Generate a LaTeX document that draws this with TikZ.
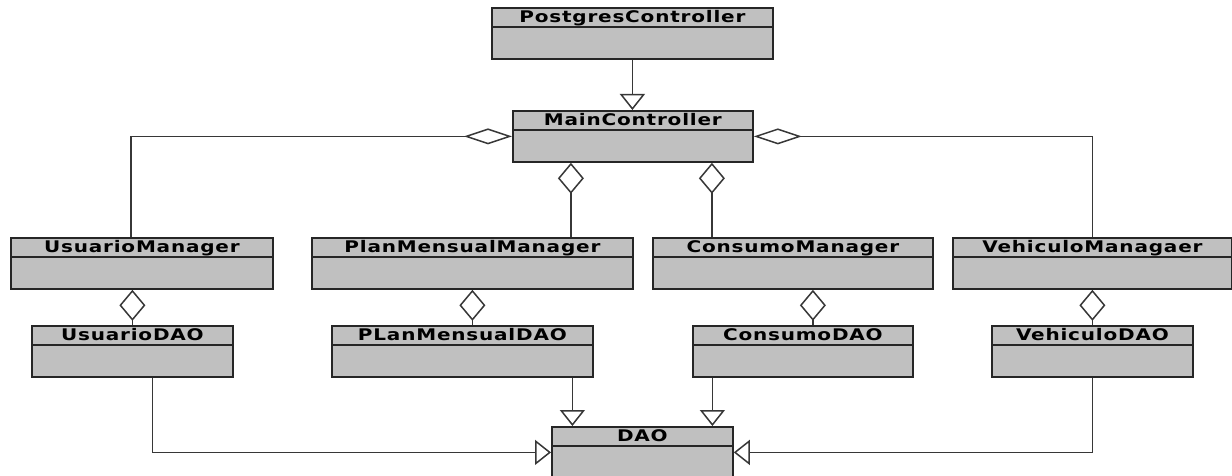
\documentclass[tikz,border=0pt]{standalone}
\usepackage{fontspec}
\usepackage{tikz}
\usetikzlibrary{positioning,arrows.meta}
\newfontfamily\umlfont[FakeStretch=1.25,LetterSpace=5]{DejaVu Sans}
\definecolor{cajagris}{RGB}{192,192,192}
\definecolor{lineagris}{RGB}{55,55,55}
\tikzset{
        clase/.style={draw=black!85, fill=cajagris, line width=1.8pt,
                anchor=north west, inner sep=0pt, minimum width=#1, minimum height=51pt,
                text height=14.5pt, text depth=36.5pt, % puts the name at the top of the box
                font=\umlfont\bfseries\fontsize{16}{18}\selectfont,
                path picture={\draw[black!85, line width=1.4pt]
                        ([yshift=-19pt]path picture bounding box.north west) --
                        ([yshift=-19pt]path picture bounding box.north east);}},
        enlace/.style={draw=lineagris, line width=1.5pt},
        gen/.style={enlace, -{Triangle[open, length=16pt, width=25pt]}}, % inheritance
        aggh/.style={enlace, -{Diamond[open, length=48pt, width=16pt]}}, % side aggregation
        aggv/.style={enlace, -{Diamond[open, length=31pt, width=26pt]}}, % aggregation from below
}
\begin{document}
\begin{tikzpicture}[x=1pt,y=-1pt]
\useasboundingbox (0,0) rectangle (1232,476);
\clip (0,0) rectangle (1232,476);

% controllers
\node[clase=281pt] (pc) at (491,7) {PostgresController};
\node[clase=240pt] (mc) at (512,110) {MainController};

% managers
\node[clase=262pt] (um) at (10,237) {UsuarioManager};
\node[clase=321pt] (pm) at (311,237) {PlanMensualManager};
\node[clase=280pt] (cm) at (652,237) {ConsumoManager};
\node[clase=279pt] (vm) at (952,237) {VehiculoManagaer};

% daos
\node[clase=201pt] (ud) at (31,325) {UsuarioDAO};
\node[clase=261pt] (pd) at (331,325) {PLanMensualDAO};
\node[clase=220pt] (cd) at (692,325) {ConsumoDAO};
\node[clase=201pt] (vd) at (991,325) {VehiculoDAO};
\node[clase=181pt] (dao) at (551,426) {DAO};

\draw[gen] (pc.south) -- (pc.south |- mc.north);

\draw[aggh] ([xshift=-11pt]um.north) |- (mc.west);
\draw[aggh] (vm.north) |- (mc.east);
\draw[aggv] ([xshift=-62pt]mc.south |- pm.north) -- ([xshift=-62pt]mc.south);
\draw[aggv] ([xshift=79pt]mc.south |- cm.north) -- ([xshift=79pt]mc.south);

\draw[aggv] (ud.north) -- (ud.north |- um.south);
\draw[aggv] (pm.south |- pd.north) -- (pm.south);
\draw[aggv] ([xshift=10pt]cd.north) -- ([xshift=10pt]cd.north |- cm.south);
\draw[aggv] (vd.north) -- (vd.north |- vm.south);

\draw[gen] ([xshift=20pt]ud.south) |- (dao.west);
\draw[gen] ([xshift=-70pt]dao.north |- pd.south) -- ([xshift=-70pt]dao.north);
\draw[gen] ([xshift=70pt]dao.north |- cd.south) -- ([xshift=70pt]dao.north);
\draw[gen] (vd.south) |- (dao.east);
\end{tikzpicture}
\end{document}
